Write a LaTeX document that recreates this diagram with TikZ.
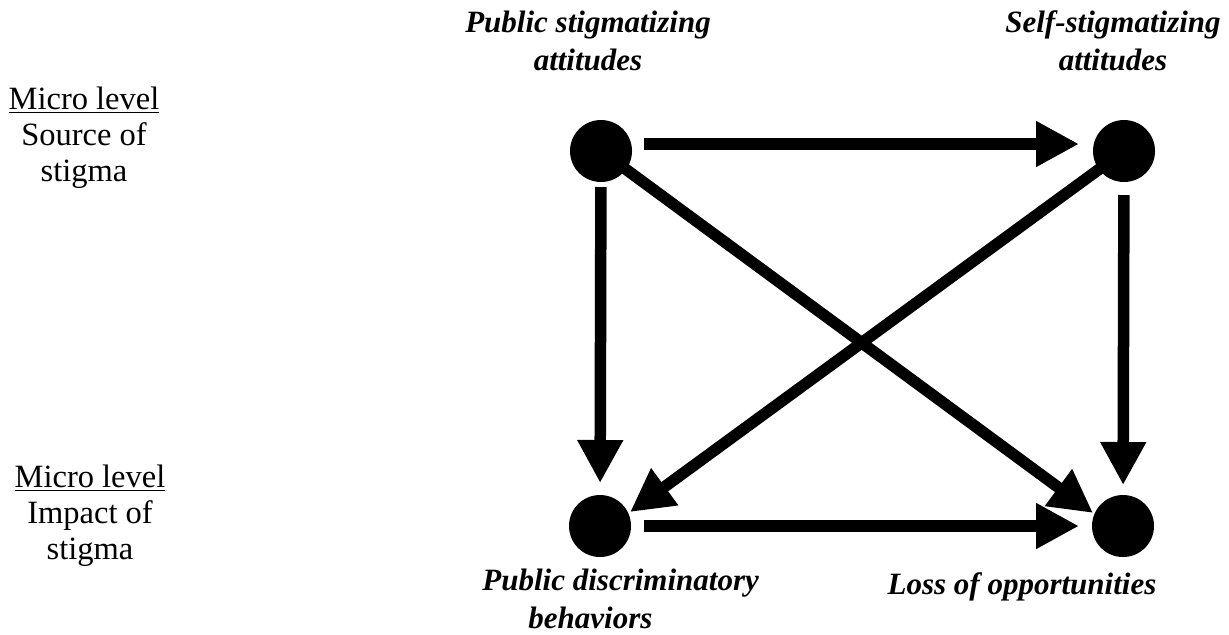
\documentclass[tikz,border=0pt]{standalone}
\usepackage{fontspec}
\setmainfont{Liberation Serif}
\usetikzlibrary{arrows.meta}
\begin{document}
\begin{tikzpicture}[x=0.5pt,y=-0.5pt,
  dot/.style={circle,fill=black,inner sep=0pt,minimum size=31pt},
  link/.style={line width=5.75pt,-{Triangle[length=21.5pt,width=21.5pt]}},
  concept/.style={font=\fontsize{15.5}{19}\selectfont\bfseries\itshape,inner sep=0pt,anchor=base,align=center},
  level/.style={font=\fontsize{16.25}{18}\selectfont,inner sep=0pt,anchor=base,align=center}]
\useasboundingbox (0,0) rectangle (1229,634);

% the four states
\node[dot] (pa) at (601,151) {};
\node[dot] (sa) at (1124,151) {};
\node[dot] (pd) at (600,526) {};
\node[dot] (lo) at (1123,526) {};

% causal paths
\draw[link,shorten <=21.5pt,shorten >=22.5pt] ([yshift=3.5pt]pa.center) -- ([yshift=3.5pt]sa.center);
\draw[link,shorten <=22pt,shorten >=22pt] (pd.center) -- (lo.center);
\draw[link,shorten <=18pt,shorten >=21.5pt] (pa.center) -- (pd.center);
\draw[link,shorten <=22pt,shorten >=20.5pt] (sa.center) -- (lo.center);
\draw[link,shorten <=14pt,shorten >=18.6pt] (pa.center) -- ([yshift=-4.5pt]lo.center);
\draw[link,shorten <=14pt,shorten >=18.6pt] (sa.center) -- ([yshift=-4pt]pd.center);

% state labels (anchored at the baseline of their last line)
\node[concept] (pat) at (588,70) {Public stigmatizing\\attitudes};
\node[concept] (sat) at (1113,70) {Self-stigmatizing\\attitudes};
\node[concept,align=left,anchor=base west] (pdt) at (482,628) {Public discriminatory\\\hspace*{23pt}behaviors};
\node[concept] (lot) at (1022,594) {Loss of opportunities};

% level labels
\node[level] (src) at (84,181) {\underline{Micro level}\\Source of\\stigma};
\node[level] (imp) at (90,559) {\underline{Micro level}\\Impact of\\stigma};
\end{tikzpicture}
\end{document}
